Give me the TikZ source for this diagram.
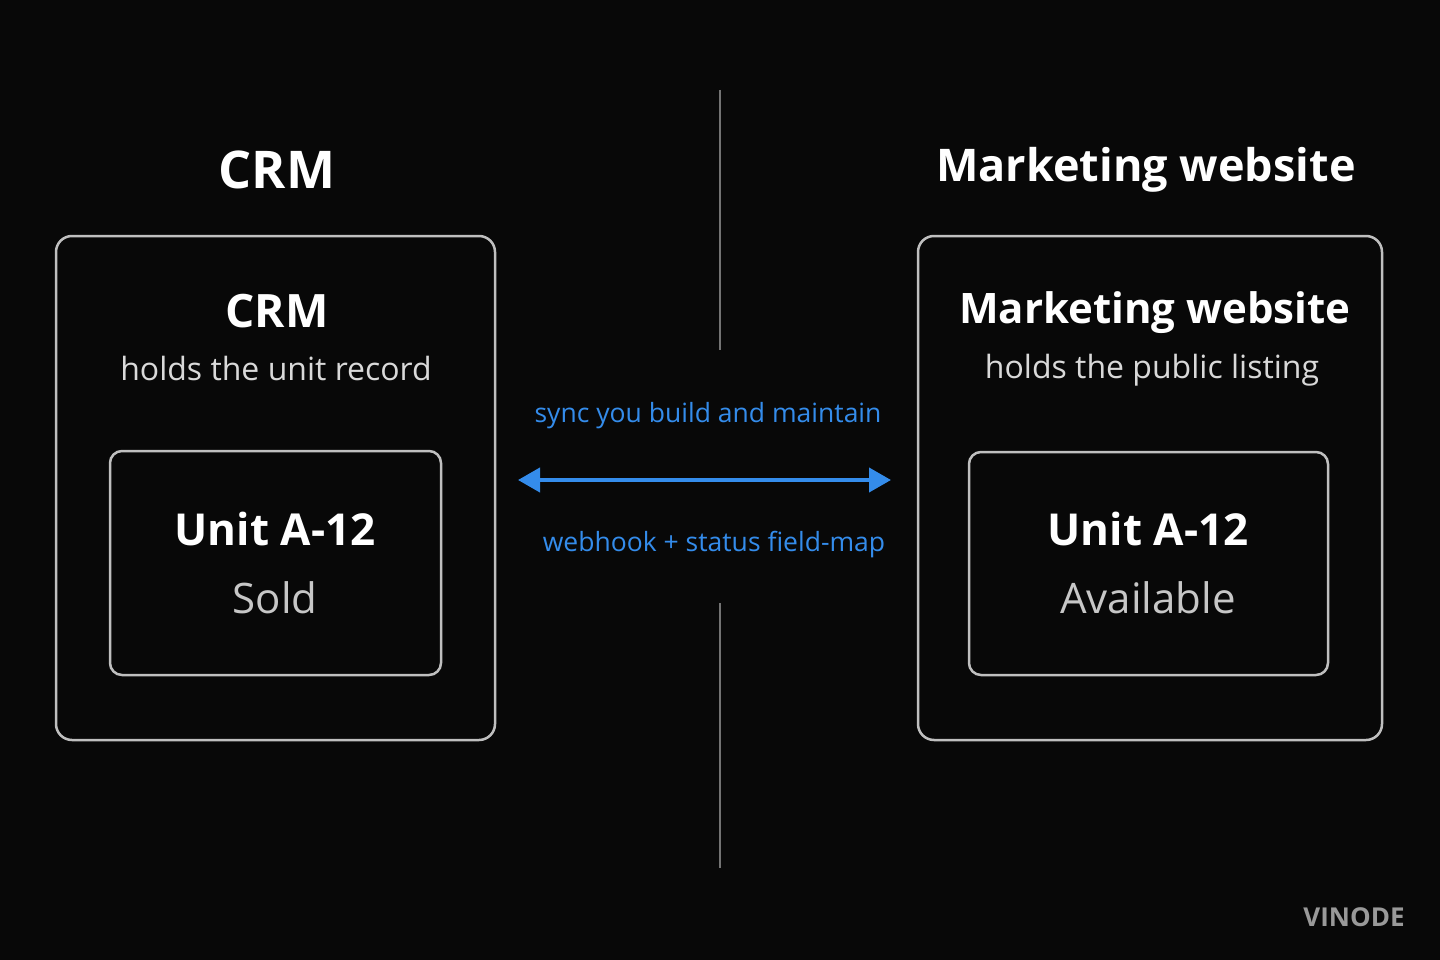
\documentclass[tikz,border=0pt]{standalone}
\usepackage{fontspec}
\setmainfont{Open Sans}
\usetikzlibrary{arrows.meta}
\begin{document}
\begin{tikzpicture}[x=1pt,y=-1pt,
  box/.style={draw=white!75!black,line width=2.5pt,rounded corners=16pt},
  ibox/.style={draw=white!75!black,line width=2.5pt,rounded corners=12pt},
  title/.style={text=white,font=\fontsize{52}{60}\selectfont\bfseries},
  sub/.style={text=white!85!black,font=\fontsize{32}{36}\selectfont},
  unit/.style={text=white,font=\fontsize{44}{54}\selectfont\bfseries},
  stat/.style={text=white!78!black,font=\fontsize{42}{50}\selectfont},
  lab/.style={text=blue1,font=\fontsize{26.5}{30}\selectfont},
  vl/.style={draw=white!45!black,line width=2.5pt}]
\definecolor{blue1}{RGB}{52,140,235}
\fill[black!97] (0,0) rectangle (1440,960);
\useasboundingbox (0,0) rectangle (1440,960);
\coordinate (t1) at (720,90); \coordinate (t2) at (720,350);
\coordinate (b1) at (720,603); \coordinate (b2) at (720,868);
\draw[vl] (t1)--(t2); \draw[vl] (b1)--(b2);
\node[title] (h1) at (277,170) {CRM};
\node[title,font=\fontsize{45}{54}\selectfont\bfseries] (h2) at (1146,170) {Marketing website};
\draw[box] (56,236) rectangle (495,740);
\draw[box] (918,236) rectangle (1382,740);
\draw[ibox] (110,451) rectangle (441,675);
\draw[ibox] (969,452) rectangle (1328,675);
\node[title,font=\fontsize{46}{54}\selectfont\bfseries] (c) at (277,311) {CRM};
\node[sub] (cs) at (276,368) {holds the unit record};
\node[title,font=\fontsize{42}{54}\selectfont\bfseries] (m) at (1155,313) {Marketing website};
\node[sub] (ms) at (1152,370) {holds the public listing};
\node[unit] (u1) at (275,529) {Unit A-12};
\node[stat] (s1) at (275,598) {Sold};
\node[unit] (u2) at (1148,529) {Unit A-12};
\node[stat] (s2) at (1148,598) {Available};
\coordinate (a1) at (518,480); \coordinate (a2) at (891,480);
\draw[blue1,line width=4pt,{Triangle[length=22pt,width=24pt]}-{Triangle[length=22pt,width=24pt]}] (a1)--(a2);
\node[lab] (l1) at (708,416) {sync you build and maintain};
\node[lab] (l2) at (714,545) {webhook + status field-map};
\node[text=white!60!black,font=\fontsize{26}{30}\selectfont\bfseries] (v) at (1354,917) {VINODE};
\end{tikzpicture}
\end{document}
